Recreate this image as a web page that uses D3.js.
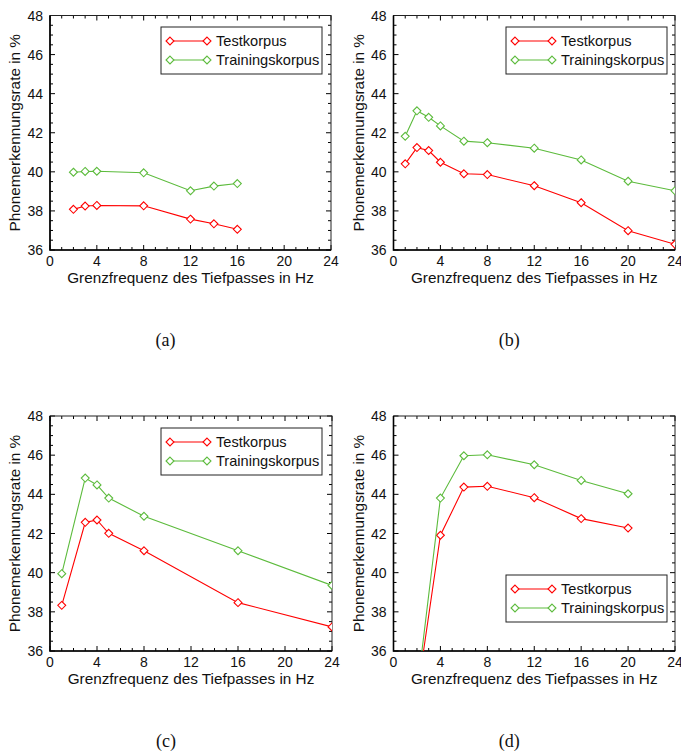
<!DOCTYPE html>
<html>
<head>
<meta charset="utf-8">
<script src="https://cdn.jsdelivr.net/npm/d3@7"></script>
<style>
  body { margin: 0; background: #fff; }
  svg { display: block; font-family: "Liberation Sans", Arial, sans-serif; }
</style>
</head>
<body>
<div id="chart"></div>
<script>
// Tick values shared by all four panels
const xTicks = [0, 4, 8, 12, 16, 20, 24];
const yTicks = [36, 38, 40, 42, 44, 46, 48];
const seriesNames = ["Testkorpus", "Trainingskorpus"];
const captions = ["(a)", "(b)", "(c)", "(d)"];

// (a)
const freqA = [2, 3, 4, 8, 12, 14, 16];
const testA = [38.08, 38.25, 38.28, 38.26, 37.58, 37.34, 37.06];
const trainA = [39.98, 40.02, 40.03, 39.95, 39.03, 39.27, 39.4];

// (b)
const freqB = [1, 2, 3, 4, 6, 8, 12, 16, 20, 24];
const testB = [40.41, 41.24, 41.09, 40.49, 39.9, 39.86, 39.29, 38.42, 36.99, 36.29];
const trainB = [41.82, 43.12, 42.79, 42.35, 41.57, 41.49, 41.21, 40.61, 39.52, 39.03];

// (c)
const freqC = [1, 3, 4, 5, 8, 16, 24];
const testC = [38.33, 42.57, 42.69, 42.01, 41.12, 38.47, 37.23];
const trainC = [39.95, 44.83, 44.48, 43.81, 42.88, 41.12, 39.35];

// (d)
const freqD = [2, 4, 6, 8, 12, 16, 20];
const testD = [33.7, 41.91, 44.37, 44.41, 43.83, 42.76, 42.28];
const trainD = [33.9, 43.81, 45.97, 46.02, 45.51, 44.71, 44.03];

const colors = ["#ff0000", "#5cbb3c"];

const width = 681, height = 753;
const svg = d3.select("#chart").append("svg")
  .attr("width", width).attr("height", height)
  .attr("viewBox", [0, 0, width, height]);

const panels = [
  { freq: freqA, test: testA, train: trainA, left: 50, top: 15.5, right: 331, bottom: 250, legend: [161, 27] },
  { freq: freqB, test: testB, train: trainB, left: 393.5, top: 15.5, right: 675, bottom: 250, legend: [506, 27] },
  { freq: freqC, test: testC, train: trainC, left: 50, top: 416, right: 332, bottom: 651, legend: [161, 428] },
  { freq: freqD, test: testD, train: trainD, left: 393.5, top: 416, right: 675, bottom: 651, legend: [506, 575] }
];

panels.forEach((p, i) => {
  const x = d3.scaleLinear().domain([0, 24]).range([p.left, p.right]);
  const y = d3.scaleLinear().domain([36, 48]).range([p.bottom, p.top]);
  const g = svg.append("g");

  const clipId = `clip-${i}`;
  g.append("clipPath").attr("id", clipId)
    .append("rect")
    .attr("x", p.left).attr("y", p.top)
    .attr("width", p.right - p.left).attr("height", p.bottom - p.top);

  // minor + major ticks on all four sides (pointing inward)
  const minorX = d3.range(0, 25, 1);
  const minorY = d3.range(36, 48.01, 0.5);
  const tickG = g.append("g").attr("stroke", "#000").attr("stroke-width", 1);
  minorX.forEach((v) => {
    const len = v % 4 === 0 ? 5 : 3;
    tickG.append("line").attr("x1", x(v)).attr("x2", x(v)).attr("y1", p.bottom).attr("y2", p.bottom - len);
    tickG.append("line").attr("x1", x(v)).attr("x2", x(v)).attr("y1", p.top).attr("y2", p.top + len);
  });
  minorY.forEach((v) => {
    const len = v % 2 === 0 ? 5 : 3;
    tickG.append("line").attr("x1", p.left).attr("x2", p.left + len).attr("y1", y(v)).attr("y2", y(v));
    tickG.append("line").attr("x1", p.right).attr("x2", p.right - len).attr("y1", y(v)).attr("y2", y(v));
  });

  // frame
  g.append("rect")
    .attr("x", p.left).attr("y", p.top)
    .attr("width", p.right - p.left).attr("height", p.bottom - p.top)
    .attr("fill", "none").attr("stroke", "#222").attr("stroke-width", 1);
  g.append("path")
    .attr("d", `M${p.left},${p.top}V${p.bottom}H${p.right}`)
    .attr("fill", "none").attr("stroke", "#000").attr("stroke-width", 1.6);

  // tick labels
  g.append("g").selectAll("text").data(xTicks).join("text")
    .attr("x", (d) => x(d)).attr("y", p.bottom + 16)
    .attr("text-anchor", "middle").attr("font-size", 14).attr("fill", "#111")
    .text((d) => d);
  g.append("g").selectAll("text").data(yTicks).join("text")
    .attr("x", p.left - 7).attr("y", (d) => y(d) + 5)
    .attr("text-anchor", "end").attr("font-size", 14).attr("fill", "#111")
    .text((d) => d);

  // axis titles
  g.append("text")
    .attr("x", (p.left + p.right) / 2).attr("y", p.bottom + 33)
    .attr("text-anchor", "middle").attr("font-size", 15.3).attr("fill", "#111")
    .text("Grenzfrequenz des Tiefpasses in Hz");
  g.append("text")
    .attr("transform", `translate(${p.left - 30},${(p.top + p.bottom) / 2}) rotate(-90)`)
    .attr("text-anchor", "middle").attr("font-size", 15.3).attr("fill", "#111")
    .text("Phonemerkennungsrate in %");

  // lines + diamond markers
  const line = d3.line().x((d) => x(d[0])).y((d) => y(d[1]));
  const diamond = d3.symbol().type(d3.symbolDiamond2).size(40);
  const data = [p.test, p.train].map((vals) => p.freq.map((f, j) => [f, vals[j]]));
  const plotG = g.append("g").attr("clip-path", `url(#${clipId})`);
  data.forEach((s, k) => {
    plotG.append("path")
      .attr("d", line(s))
      .attr("fill", "none").attr("stroke", colors[k]).attr("stroke-width", 1.1);
    plotG.append("g").selectAll("path").data(s.filter((d) => d[1] >= 36)).join("path")
      .attr("transform", (d) => `translate(${x(d[0])},${y(d[1])})`)
      .attr("d", diamond)
      .attr("fill", "#fff").attr("stroke", colors[k]).attr("stroke-width", 1.1);
  });

  // legend
  const [lx, ly] = p.legend;
  const lg = g.append("g");
  lg.append("rect")
    .attr("x", lx).attr("y", ly).attr("width", 161).attr("height", 47)
    .attr("fill", "#fff").attr("stroke", "#222").attr("stroke-width", 1);
  seriesNames.forEach((name, k) => {
    const yy = ly + 14 + k * 19;
    lg.append("line")
      .attr("x1", lx + 9).attr("x2", lx + 46).attr("y1", yy).attr("y2", yy)
      .attr("stroke", colors[k]).attr("stroke-width", 1.1);
    [lx + 9, lx + 46].forEach((px) => {
      lg.append("path")
        .attr("transform", `translate(${px},${yy})`)
        .attr("d", diamond)
        .attr("fill", "#fff").attr("stroke", colors[k]).attr("stroke-width", 1.1);
    });
    lg.append("text")
      .attr("x", lx + 55).attr("y", yy + 5)
      .attr("font-size", 14.6).attr("fill", "#111")
      .text(name);
  });

  // caption
  svg.append("text")
    .attr("x", (p.left + p.right) / 2 - 25).attr("y", p.bottom + 96)
    .attr("text-anchor", "middle")
    .attr("font-family", "'Liberation Serif', 'DejaVu Serif', serif")
    .attr("font-size", 18).attr("fill", "#111")
    .text(captions[i]);
});
</script>
</body>
</html>
